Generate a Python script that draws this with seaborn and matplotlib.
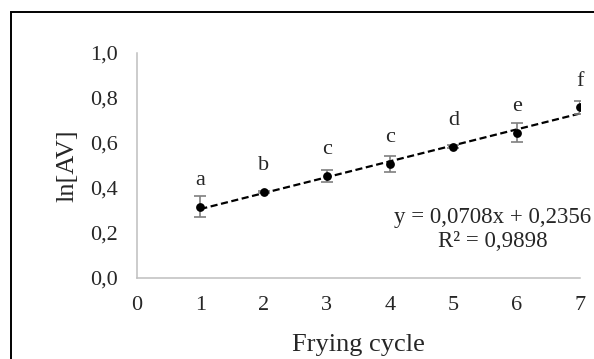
import matplotlib
matplotlib.use("Agg")
import matplotlib.pyplot as plt
from matplotlib.patches import Rectangle
import numpy as np
import pandas as pd
import seaborn as sns

# values
cycles = [1, 2, 3, 4, 5, 6, 7]
ln_av = [0.317, 0.382, 0.453, 0.506, 0.584, 0.646, 0.758]
ln_av_err = [0.047, 0.005, 0.027, 0.035, 0.008, 0.042, 0.027]
letters = ["a", "b", "c", "c", "d", "e", "f"]
slope = 0.0708
intercept = 0.2356
r_squared = 0.9898
x_ticks = [0, 1, 2, 3, 4, 5, 6, 7]
y_ticks = [0.0, 0.2, 0.4, 0.6, 0.8, 1.0]

df = pd.DataFrame({"cycle": cycles, "ln_av": ln_av, "err": ln_av_err})

sns.set_style("white")
plt.rcParams["font.family"] = ["Liberation Serif", "DejaVu Serif"]

fig = plt.figure(figsize=(5.94, 3.59), dpi=100)
ax = fig.add_axes([137 / 594, 1 - 278 / 359, 443 / 594, 225 / 359])

# outer frame (cut off at right and bottom like the reference)
fig.patches.append(Rectangle((11 / 594, -0.2), 1.2, 0.2 + (1 - 12 / 359),
                             transform=fig.transFigure, fill=False,
                             edgecolor="black", linewidth=1.4, zorder=0))

# linear trend line from the equation
trend_x = np.array([cycles[0], cycles[-1]])
ax.plot(trend_x, slope * trend_x + intercept, color="black",
        linestyle=(0, (3.2, 1.6)), linewidth=1.6, zorder=2)

ax.errorbar(df["cycle"], df["ln_av"], yerr=df["err"], fmt="none",
            ecolor="#7f7f7f", elinewidth=1.2, capsize=4, capthick=1.2, zorder=3)
sns.scatterplot(data=df, x="cycle", y="ln_av", color="black", s=40,
                edgecolor="black", linewidth=0, ax=ax, zorder=4)

for xv, yv, lab in zip(cycles, ln_av, letters):
    ax.annotate(lab, (xv, yv), xytext=(0, 19), textcoords="offset points",
                ha="center", va="center", fontsize=16)

ax.text(5.62, 0.2156,
        "y = {:.4f}x + {:.4f}\nR² = {:.4f}".format(slope, intercept, r_squared).replace(".", ","),
        ha="center", va="center", fontsize=16.5, linespacing=1.15, clip_on=False)

ax.set_xlim(0, 7)
ax.set_ylim(0, 1)
ax.set_xticks(x_ticks)
ax.set_yticks(y_ticks)
ax.set_yticklabels(["{:.1f}".format(v).replace(".", ",") for v in y_ticks])
ax.tick_params(axis="both", length=0, labelsize=16)
ax.tick_params(axis="y", pad=14)
ax.tick_params(axis="x", pad=13)

for side in ["top", "right"]:
    ax.spines[side].set_visible(False)
for side in ["left", "bottom"]:
    ax.spines[side].set_color("#bfbfbf")
    ax.spines[side].set_linewidth(1.1)

ax.set_xlabel("Frying cycle", fontsize=19, va="center")
ax.xaxis.set_label_coords(0.5, (278 - 345) / 225)
ax.set_ylabel("ln[AV]", fontsize=19, va="center")
ax.yaxis.set_label_coords((67 - 137) / 443, 0.5)

fig.savefig("out.png", dpi=100)
